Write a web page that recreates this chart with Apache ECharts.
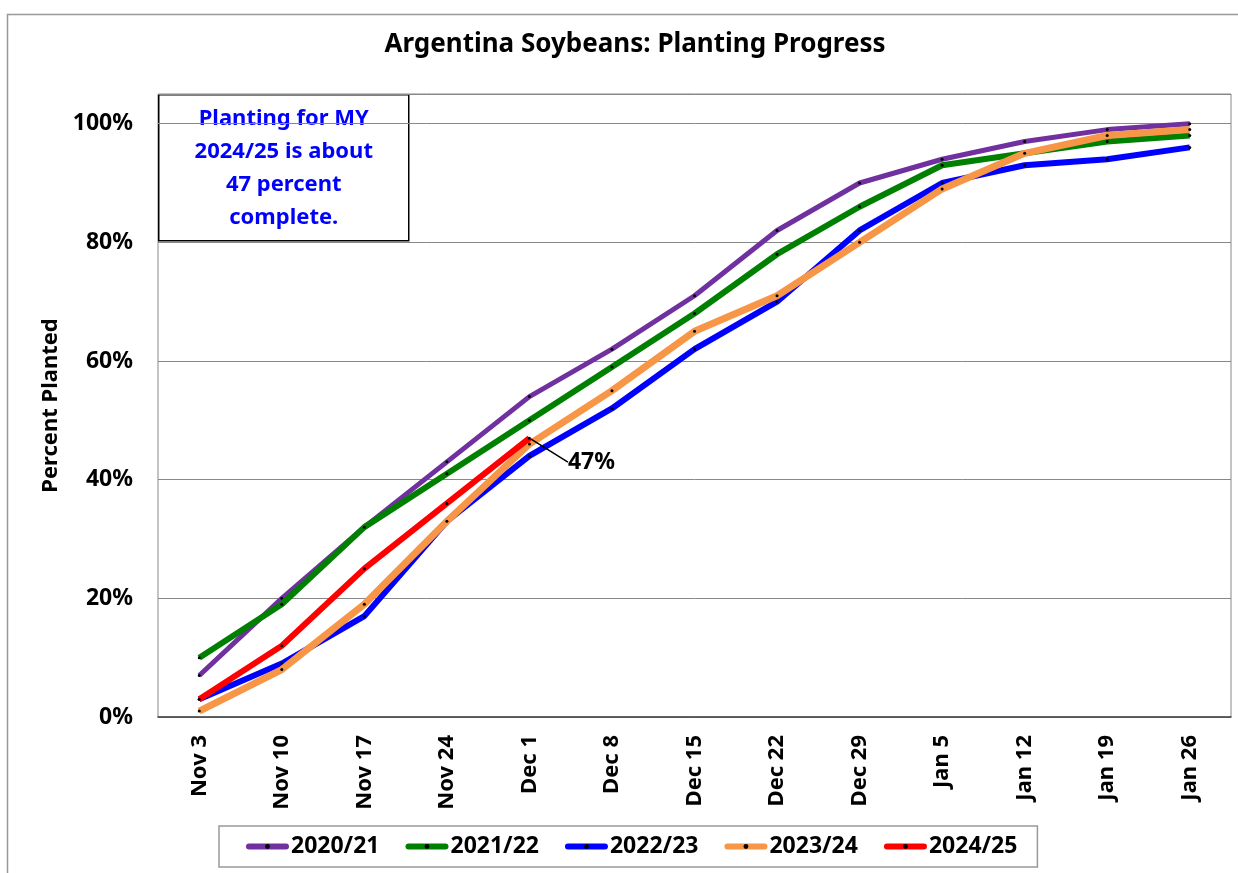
<!DOCTYPE html>
<html>
<head>
<meta charset="utf-8">
<script src="https://cdn.jsdelivr.net/npm/echarts@6/dist/echarts.min.js"></script>
<style>
  html, body { margin: 0; padding: 0; background: #fff; }
  #chart { width: 1238px; height: 873px; }
</style>
</head>
<body>
<div id="chart"></div>
<script>
const weeks = ['Nov 3', 'Nov 10', 'Nov 17', 'Nov 24', 'Dec 1', 'Dec 8', 'Dec 15', 'Dec 22', 'Dec 29', 'Jan 5', 'Jan 12', 'Jan 19', 'Jan 26']
const years = ['2020/21', '2021/22', '2022/23', '2023/24', '2024/25']
const my2020 = [7, 20, 32, 43, 54, 62, 71, 82, 90, 94, 97, 99, 100]
const my2021 = [10, 19, 32, 41, 50, 59, 68, 78, 86, 93, 95, 97, 98]
const my2022 = [3, 9, 17, 33, 44, 52, 62, 70, 82, 90, 93, 94, 96]
const my2023 = [1, 8, 19, 33, 46, 55, 65, 71, 80, 89, 95, 98, 99]
const my2024 = [3, 12, 25, 36, 47]
const colors = ['#7030A0', '#008000', '#0000FF', '#F79646', '#FF0000']
const widths = [5, 6, 6, 7, 6]

const FONT = '"Noto Sans", "Open Sans", sans-serif'
const chart = echarts.init(document.getElementById('chart'))

// current year: label the latest point
const lastIdx = my2024.length - 1
const currentData = my2024.map((v, i) => {
  if (i !== lastIdx) return v
  return {
    value: v,
    label: {
      show: true,
      formatter: '{c}%',
      position: 'right',
      color: '#000',
      fontSize: 23,
      fontWeight: 'bold',
      fontFamily: FONT,
    },
    labelLine: {
      show: true,
      lineStyle: { color: '#000', width: 1.5 },
    },
  }
})

const seriesData = [my2020, my2021, my2022, my2023, currentData]
const series = years.map((name, i) => ({
  name,
  type: 'line',
  data: seriesData[i],
  symbol: 'circle',
  symbolSize: 3,
  itemStyle: { color: '#000' },
  lineStyle: { color: colors[i], width: widths[i] },
  emphasis: { disabled: true },
  labelLayout: i === 4 ? { dx: 32, dy: 24 } : undefined,
  z: 2 + i,
}))

const options = {
  animation: false,
  title: {
    text: 'Argentina Soybeans: Planting Progress',
    left: 630,
    top: 27,
    textAlign: 'center',
    textStyle: { fontSize: 26, fontWeight: 'bold', color: '#000', fontFamily: FONT },
  },
  grid: {
    left: 158,
    right: 7,
    top: 94,
    bottom: 156,
    show: true,
    borderColor: '#888',
    borderWidth: 1,
  },
  legend: {
    data: years,
    left: 219,
    top: 826,
    orient: 'horizontal',
    padding: [9, 20, 9, 27],
    itemGap: 26,
    itemWidth: 37,
    itemHeight: 6,
    lineStyle: { width: 6, cap: 'round' },
    borderColor: '#999',
    borderWidth: 1.5,
    textStyle: { fontSize: 23, fontWeight: 'bold', color: '#000', fontFamily: FONT },
  },
  xAxis: {
    type: 'category',
    data: weeks,
    boundaryGap: true,
    axisLine: { lineStyle: { color: '#444', width: 1.5 } },
    axisTick: { show: false },
    axisLabel: {
      rotate: 90,
      margin: 18,
      fontSize: 22,
      fontWeight: 'bold',
      color: '#000',
      fontFamily: FONT,
    },
  },
  yAxis: {
    type: 'value',
    min: 0,
    max: 105,
    interval: 20,
    name: 'Percent Planted',
    nameLocation: 'middle',
    nameGap: 96,
    nameTextStyle: { fontSize: 22, fontWeight: 'bold', color: '#000', fontFamily: FONT },
    axisLine: { show: false },
    axisTick: { show: false },
    axisLabel: {
      formatter: '{value}%',
      showMaxLabel: false,
      margin: 25,
      fontSize: 23,
      fontWeight: 'bold',
      color: '#000',
      fontFamily: FONT,
    },
    splitLine: { lineStyle: { color: '#888', width: 1 } },
  },
  graphic: [
    {
      // outer chart frame
      type: 'rect',
      left: 5,
      top: 12,
      shape: { width: 1300, height: 1000 },
      style: { fill: 'none', stroke: '#999', lineWidth: 1.5 },
      silent: true,
      z: -1,
    },
    {
      type: 'group',
      left: 158,
      top: 94,
      z: 100,
      children: [
        {
          type: 'rect',
          shape: { width: 250, height: 146 },
          style: { fill: '#fff', stroke: '#000', lineWidth: 1.5 },
        },
        {
          type: 'text',
          x: 125,
          y: 73,
          style: {
            text: 'Planting for MY\n2024/25 is about\n47 percent\ncomplete.',
            fill: '#0000FF',
            font: 'bold 22px ' + FONT,
            align: 'center',
            verticalAlign: 'middle',
            lineHeight: 33,
          },
        },
      ],
    },
  ],
  series,
}
chart.setOption(options, true)
</script>
</body>
</html>
